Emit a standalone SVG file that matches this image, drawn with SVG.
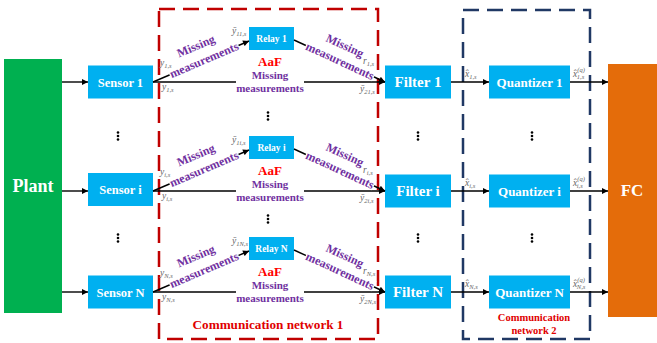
<svg xmlns="http://www.w3.org/2000/svg" width="657" height="343" viewBox="0 0 657 343">
<defs>
<marker id="ah" viewBox="0 0 10 10" refX="10" refY="5" markerWidth="7" markerHeight="6" orient="auto" markerUnits="userSpaceOnUse"><path d="M0,0 L10,5 L0,10 z" fill="#000"/></marker>
<style>
text{font-family:"Liberation Serif","Times New Roman",serif;}
.bx{fill:#00B0F0;}
.wt{fill:#fff;font-weight:bold;text-anchor:middle;}
.ln{stroke:#000;stroke-width:1.4;fill:none;}
.ar{stroke:#000;stroke-width:1.4;fill:none;marker-end:url(#ah);}
.pu{fill:#7030A0;font-weight:bold;text-anchor:middle;}
.pd{font-size:12px;}
.ph{font-size:11px;}
.aaf{fill:#FF0000;font-weight:bold;font-size:13px;text-anchor:middle;}
.m{fill:#666;font-style:italic;font-size:9.5px;}
.s{font-size:6.5px;}
.dot{fill:#000;}
</style>
</defs>
<g id="networks">
<rect x="159" y="9" width="219" height="330" fill="none" stroke="#C00000" stroke-width="2.5" stroke-dasharray="16 8"/>
<rect x="463" y="10" width="127" height="329" fill="none" stroke="#203864" stroke-width="2.5" stroke-dasharray="16 8"/>
<text x="268" y="329" fill="#E00000" font-weight="bold" font-size="13.2px" text-anchor="middle">Communication network 1</text>
<text x="534" y="321" fill="#E00000" font-weight="bold" font-size="10.5px" text-anchor="middle">Communication</text>
<text x="534" y="334" fill="#E00000" font-weight="bold" font-size="10.5px" text-anchor="middle">network 2</text>
</g>
<g id="plant"><rect x="4" y="59" width="58" height="254" fill="#00B050"/><text class="wt" x="33" y="192" font-size="18px">Plant</text></g>
<g id="fc"><rect x="608" y="64" width="49" height="253" fill="#E46C0A"/><text class="wt" x="632" y="196" font-size="17px">FC</text></g>
<g id="sensor1"><rect class="bx" x="88" y="65.5" width="65" height="33"/><text class="wt" x="120.5" y="86.5" font-size="12.5px">Sensor 1</text></g>
<g id="sensori"><rect class="bx" x="88" y="173" width="65" height="33"/><text class="wt" x="120.5" y="194" font-size="12.5px">Sensor i</text></g>
<g id="sensorN"><rect class="bx" x="88" y="275.5" width="65" height="33"/><text class="wt" x="120.5" y="296.5" font-size="12.5px">Sensor N</text></g>
<g id="relay1"><rect class="bx" x="249" y="27" width="45" height="23"/><text class="wt" x="271.5" y="41.5" font-size="9.5px">Relay 1</text></g>
<g id="relayi"><rect class="bx" x="249" y="136" width="45" height="23"/><text class="wt" x="271.5" y="150.5" font-size="9.5px">Relay i</text></g>
<g id="relayN"><rect class="bx" x="249" y="237" width="45" height="23"/><text class="wt" x="271.5" y="251.5" font-size="9.5px">Relay N</text></g>
<g id="filter1"><rect class="bx" x="385" y="65.5" width="66" height="33"/><text class="wt" x="418" y="87" font-size="15px">Filter 1</text></g>
<g id="filteri"><rect class="bx" x="385" y="174.5" width="66" height="33"/><text class="wt" x="418" y="196" font-size="15px">Filter i</text></g>
<g id="filterN"><rect class="bx" x="385" y="275.5" width="66" height="33"/><text class="wt" x="418" y="297" font-size="15px">Filter N</text></g>
<g id="quantizer1"><rect class="bx" x="489" y="65.5" width="81" height="33"/><text class="wt" x="529.5" y="86.5" font-size="13px">Quantizer 1</text></g>
<g id="quantizeri"><rect class="bx" x="489" y="174.5" width="81" height="33"/><text class="wt" x="529.5" y="195.5" font-size="13px">Quantizer i</text></g>
<g id="quantizerN"><rect class="bx" x="489" y="275.5" width="81" height="33"/><text class="wt" x="529.5" y="296.5" font-size="13px">Quantizer N</text></g>
<g id="connectors">
<path class="ar" d="M62,82 H88"/><path class="ar" d="M62,191 H88"/><path class="ar" d="M62,292 H88"/>
<path class="ar" d="M153,82 L249,41"/><path class="ar" d="M153,191 L249,150"/><path class="ar" d="M153,292 L249,251"/>
<path class="ar" d="M294,40 L385,82"/><path class="ar" d="M294,149 L385,191"/><path class="ar" d="M294,250 L385,292"/>
<path class="ln" d="M153,82 H236"/><path class="ar" d="M304,82 H385"/>
<path class="ln" d="M153,191 H236"/><path class="ar" d="M304,191 H385"/>
<path class="ln" d="M153,292 H236"/><path class="ar" d="M304,292 H385"/>
<path class="ar" d="M451,82 H489"/><path class="ar" d="M451,191 H489"/><path class="ar" d="M451,292 H489"/>
<path class="ar" d="M570,82 H608"/><path class="ar" d="M570,191 H608"/><path class="ar" d="M570,292 H608"/>
</g>
<g id="labels-row1">
<g transform="translate(204,60) rotate(-23.1)"><rect x="-37.5" y="-6" width="75" height="11" fill="#fff"/><text class="pu pd" x="-2" y="-12">Missing</text><text class="pu pd" x="0" y="4">measurements</text></g>
<g transform="translate(340,61) rotate(24.8)"><rect x="-37.5" y="-6" width="75" height="11" fill="#fff"/><text class="pu pd" x="-2" y="-12">Missing</text><text class="pu pd" x="0" y="4">measurements</text></g>
<text class="aaf" x="270" y="66">AaF</text>
<text class="pu ph" x="270" y="79">Missing</text><text class="pu ph" x="270" y="92">measurements</text>
<text class="m" x="232" y="33.5">ȳ<tspan class="s" dy="2">11,s</tspan></text>
<text class="m" x="160" y="66">y<tspan class="s" dy="2">1,s</tspan></text>
<text class="m" x="162" y="90">y<tspan class="s" dy="2">1,s</tspan></text>
<text class="m" x="363" y="64">r<tspan class="s" dy="2">1,s</tspan></text>
<text class="m" x="360" y="92">ȳ<tspan class="s" dy="2">21,s</tspan></text>
<text class="m" x="465" y="77">x̂<tspan class="s" dy="2">1,s</tspan></text>
<text class="m" x="573" y="77">x̂<tspan class="s" dy="-5">(q)</tspan><tspan class="s" dx="-8" dy="7">1,s</tspan></text>
</g>
<g id="labels-rowi">
<g transform="translate(204,169) rotate(-23.1)"><rect x="-37.5" y="-6" width="75" height="11" fill="#fff"/><text class="pu pd" x="-2" y="-12">Missing</text><text class="pu pd" x="0" y="4">measurements</text></g>
<g transform="translate(340,170) rotate(24.8)"><rect x="-37.5" y="-6" width="75" height="11" fill="#fff"/><text class="pu pd" x="-2" y="-12">Missing</text><text class="pu pd" x="0" y="4">measurements</text></g>
<text class="aaf" x="270" y="175">AaF</text>
<text class="pu ph" x="270" y="188">Missing</text><text class="pu ph" x="270" y="201">measurements</text>
<text class="m" x="232" y="142.5">ȳ<tspan class="s" dy="2">1i,s</tspan></text>
<text class="m" x="160" y="175">y<tspan class="s" dy="2">i,s</tspan></text>
<text class="m" x="162" y="199">y<tspan class="s" dy="2">i,s</tspan></text>
<text class="m" x="363" y="173">r<tspan class="s" dy="2">i,s</tspan></text>
<text class="m" x="360" y="201">ȳ<tspan class="s" dy="2">2i,s</tspan></text>
<text class="m" x="465" y="186">x̂<tspan class="s" dy="2">i,s</tspan></text>
<text class="m" x="573" y="186">x̂<tspan class="s" dy="-5">(q)</tspan><tspan class="s" dx="-8" dy="7">i,s</tspan></text>
</g>
<g id="labels-rowN">
<g transform="translate(204,270) rotate(-23.1)"><rect x="-37.5" y="-6" width="75" height="11" fill="#fff"/><text class="pu pd" x="-2" y="-12">Missing</text><text class="pu pd" x="0" y="4">measurements</text></g>
<g transform="translate(340,271) rotate(24.8)"><rect x="-37.5" y="-6" width="75" height="11" fill="#fff"/><text class="pu pd" x="-2" y="-12">Missing</text><text class="pu pd" x="0" y="4">measurements</text></g>
<text class="aaf" x="270" y="276">AaF</text>
<text class="pu ph" x="270" y="289">Missing</text><text class="pu ph" x="270" y="302">measurements</text>
<text class="m" x="232" y="243.5">ȳ<tspan class="s" dy="2">1N,s</tspan></text>
<text class="m" x="160" y="276">y<tspan class="s" dy="2">N,s</tspan></text>
<text class="m" x="162" y="300">y<tspan class="s" dy="2">N,s</tspan></text>
<text class="m" x="363" y="274">r<tspan class="s" dy="2">N,s</tspan></text>
<text class="m" x="360" y="302">ȳ<tspan class="s" dy="2">2N,s</tspan></text>
<text class="m" x="465" y="287">x̂<tspan class="s" dy="2">N,s</tspan></text>
<text class="m" x="573" y="287">x̂<tspan class="s" dy="-5">(q)</tspan><tspan class="s" dx="-8" dy="7">N,s</tspan></text>
</g>
<g id="ellipses" class="dot">
<circle cx="118" cy="132.5" r="1.3"/><circle cx="118" cy="136" r="1.3"/><circle cx="118" cy="139.5" r="1.3"/>
<circle cx="118" cy="234.5" r="1.3"/><circle cx="118" cy="238" r="1.3"/><circle cx="118" cy="241.5" r="1.3"/>
<circle cx="268" cy="112.5" r="1.3"/><circle cx="268" cy="116" r="1.3"/><circle cx="268" cy="119.5" r="1.3"/>
<circle cx="268" cy="215.5" r="1.3"/><circle cx="268" cy="219" r="1.3"/><circle cx="268" cy="222.5" r="1.3"/>
<circle cx="418" cy="132.5" r="1.3"/><circle cx="418" cy="136" r="1.3"/><circle cx="418" cy="139.5" r="1.3"/>
<circle cx="418" cy="234.5" r="1.3"/><circle cx="418" cy="238" r="1.3"/><circle cx="418" cy="241.5" r="1.3"/>
<circle cx="532" cy="132.5" r="1.3"/><circle cx="532" cy="136" r="1.3"/><circle cx="532" cy="139.5" r="1.3"/>
<circle cx="532" cy="234.5" r="1.3"/><circle cx="532" cy="238" r="1.3"/><circle cx="532" cy="241.5" r="1.3"/>
</g>
</svg>
